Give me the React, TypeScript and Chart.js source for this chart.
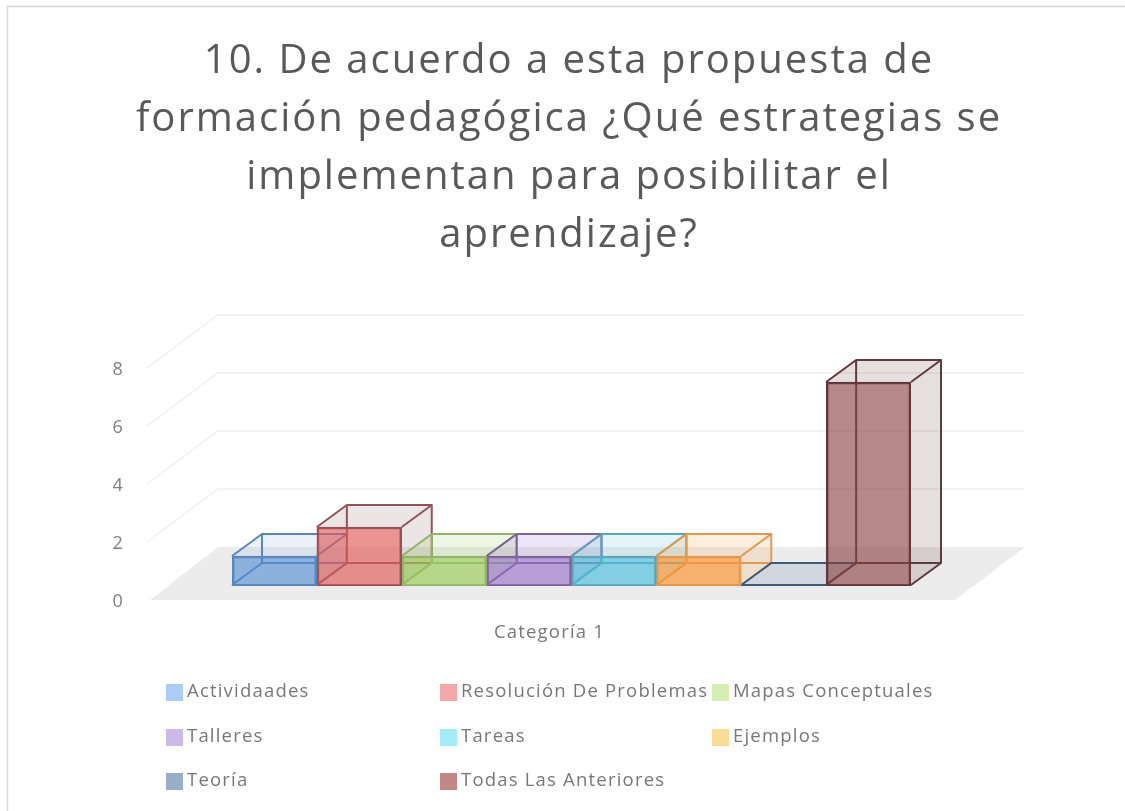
import React, { useEffect, useRef } from "react";
import { Chart, registerables } from "chart.js";

Chart.register(...registerables);

const titleLines = [
  "10. De acuerdo a esta propuesta de",
  "formación pedagógica ¿Qué estrategias se",
  "implementan para posibilitar el",
  "aprendizaje?",
];
const categories = ["Categoría 1"];
const seriesNames = [
  "Actividaades",
  "Resolución De Problemas",
  "Mapas Conceptuales",
  "Talleres",
  "Tareas",
  "Ejemplos",
  "Teoría",
  "Todas Las Anteriores",
];
const seriesValues = [1, 2, 1, 1, 1, 1, 0, 7];
const frontFills = ["rgba(80,140,210,0.62)", "rgba(222,90,90,0.65)", "rgba(155,205,90,0.68)", "rgba(150,110,200,0.62)", "rgba(75,190,220,0.65)", "rgba(250,150,50,0.68)", "rgba(50,90,140,0.65)", "rgba(135,65,65,0.62)"];
const edgeColors = ["#5a86bb", "#8e5558", "#93b06e", "#7a6596", "#5fa3ba", "#e09a50", "#3f5a78", "#5e3a3e"];
const sideFills = ["rgba(130,170,220,0.16)", "rgba(130,80,80,0.15)", "rgba(155,205,90,0.18)", "rgba(150,110,200,0.18)", "rgba(75,190,220,0.16)", "rgba(250,150,50,0.16)", "rgba(50,90,140,0.14)", "rgba(90,40,40,0.15)"];
const swatchColors = ["#a9cdf5", "#f5a8a8", "#d6eeb2", "#cdb9e8", "#a3ecf6", "#fadc96", "#98aecb", "#c28888"];

const FONT = "'Open Sans', sans-serif";
const DX = 30;
const DY = 22;
const LEGEND_COLS = [166, 440, 712];
const LEGEND_ROWS = [692, 737, 781];
const TEXT_SPACING = "1.2px";
const TITLE_SPACING = "2px";

const scenePlugin = {
  id: "scene3d",
  beforeDraw(chart: any) {
    const c = chart.ctx;
    c.letterSpacing = TEXT_SPACING;
    const block = chart.titleBlock;
    if (block && !block.__spaced) {
      const draw = block.draw.bind(block);
      block.draw = (...args: any[]) => {
        c.letterSpacing = TITLE_SPACING;
        draw(...args);
        c.letterSpacing = TEXT_SPACING;
      };
      block.__spaced = true;
    }
    c.save();
    c.strokeStyle = "#d8d8d8";
    c.lineWidth = 1.5;
    c.beginPath();
    c.moveTo(7.5, 811);
    c.lineTo(7.5, 6.5);
    c.lineTo(1125, 6.5);
    c.stroke();
    c.restore();
  },
  beforeDatasetsDraw(chart: any) {
    const c = chart.ctx;
    const y = chart.scales.y;
    const y0 = y.getPixelForValue(0);
    c.save();
    c.fillStyle = "#ececec";
    c.beginPath();
    c.moveTo(150, y0 + 15);
    c.lineTo(218, y0 - 38);
    c.lineTo(1025, y0 - 38);
    c.lineTo(955, y0 + 15);
    c.closePath();
    c.fill();
    c.strokeStyle = "#f3f3f3";
    c.lineWidth = 2;
    y.ticks.forEach((t: any) => {
      if (t.value === 0) return;
      const p = y.getPixelForValue(t.value);
      c.beginPath();
      c.moveTo(147, p + 15);
      c.lineTo(218, p - 38);
      c.lineTo(1025, p - 38);
      c.stroke();
    });
    chart.data.datasets.forEach((_: any, i: number) => {
      const el = chart.getDatasetMeta(i).data[0];
      const { x, y: top, base, width } = el.getProps(["x", "y", "base", "width"], true);
      const l = x - width / 2;
      const r = x + width / 2;
      c.fillStyle = sideFills[i];
      c.beginPath();
      c.moveTo(l, top);
      c.lineTo(l + DX, top - DY);
      c.lineTo(r + DX, top - DY);
      c.lineTo(r, top);
      c.closePath();
      c.fill();
      c.beginPath();
      c.moveTo(r, top);
      c.lineTo(r + DX, top - DY);
      c.lineTo(r + DX, base - DY);
      c.lineTo(r, base);
      c.closePath();
      c.fill();
      c.strokeStyle = edgeColors[i];
      c.lineWidth = 2;
      c.lineJoin = "round";
      c.beginPath();
      c.moveTo(l, top);
      c.lineTo(l + DX, top - DY);
      c.lineTo(r + DX, top - DY);
      c.lineTo(r, top);
      c.moveTo(l + DX, top - DY);
      c.lineTo(l + DX, base - DY);
      c.lineTo(l, base);
      c.moveTo(l + DX, base - DY);
      c.lineTo(r + DX, base - DY);
      c.lineTo(r, base);
      c.moveTo(r + DX, top - DY);
      c.lineTo(r + DX, base - DY);
      c.moveTo(l, base);
      c.lineTo(r, base);
      c.stroke();
    });
    c.restore();
  },
  afterDraw(chart: any) {
    const c = chart.ctx;
    c.save();
    c.font = `18.5px ${FONT}`;
    c.textBaseline = "middle";
    c.textAlign = "left";
    chart.data.datasets.forEach((d: any, i: number) => {
      const cx = LEGEND_COLS[i % 3];
      const cy = LEGEND_ROWS[Math.floor(i / 3)];
      c.fillStyle = swatchColors[i];
      c.fillRect(cx, cy - 8, 17, 17);
      c.fillStyle = "#777777";
      c.fillText(d.label, cx + 21, cy);
    });
    c.restore();
  },
};

export default function App() {
  const ref = useRef<HTMLCanvasElement>(null);
  useEffect(() => {
    const chart = new Chart(ref.current!, {
      type: "bar",
      data: {
        labels: categories,
        datasets: seriesNames.map((label, i) => ({
          label,
          data: [seriesValues[i]],
          xAxisID: "x",
          yAxisID: "y",
          backgroundColor: frontFills[i],
          borderColor: edgeColors[i],
          borderWidth: 2,
          categoryPercentage: 1,
          barPercentage: 1,
        })),
      },
      options: {
        responsive: false,
        animation: false,
        layout: { padding: { left: 13, right: 0, top: 0, bottom: 0 } },
        plugins: {
          legend: { display: false },
          tooltip: { enabled: false },
          title: {
            display: true,
            text: titleLines,
            color: "#595959",
            font: { family: FONT, size: 40, weight: "normal", lineHeight: 1.45 },
            padding: { top: 33, bottom: 88 },
          },
        },
        scales: {
          x: {
            grid: { display: false },
            border: { display: false },
            afterFit: (s: any) => { s.height = 226; },
            ticks: { color: "#777777", font: { family: FONT, size: 18.5 }, padding: 29, labelOffset: -22 },
          },
          y: {
            min: 0,
            max: 8,
            grid: { display: false },
            border: { display: false },
            afterFit: (s: any) => { s.width = 219; },
            ticks: { stepSize: 2, color: "#7f7f7f", font: { family: FONT, size: 18 }, padding: 100, labelOffset: 17 },
          },
          rightSpacer: {
            type: "linear",
            position: "right",
            grid: { display: false },
            border: { display: false },
            ticks: { display: false },
            afterFit: (s: any) => { s.width = 214; },
          },
        },
      },
      plugins: [scenePlugin],
    } as any);
    return () => chart.destroy();
  }, []);
  return (
    <canvas
      ref={ref}
      width={1125}
      height={811}
      style={{ position: "absolute", left: 0, top: 0, width: 1125, height: 811, background: "#fff", filter: "blur(0.4px)" }}
    />
  );
}
